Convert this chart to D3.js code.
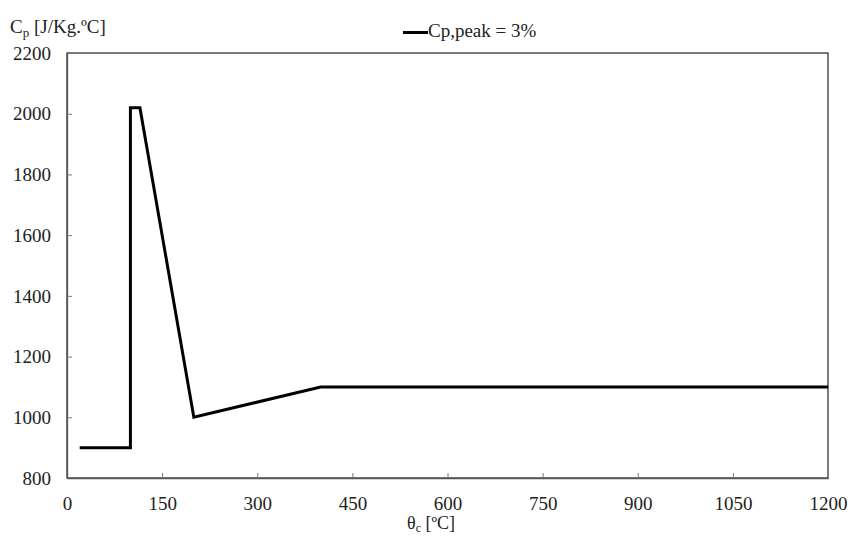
<!DOCTYPE html>
<html>
<head>
<meta charset="utf-8">
<script src="https://cdn.jsdelivr.net/npm/d3@7"></script>
<style>
  body { margin: 0; background: #fff; }
  svg text { font-family: "Liberation Serif", "Times New Roman", Times, serif; fill: #222; }
</style>
</head>
<body>
<div id="chart"></div>
<script>
// temperature [ºC] and specific heat [J/Kg.ºC]
var temps = [20, 100, 100, 115, 200, 400, 1200];
var cpValues = [900, 900, 2020, 2020, 1000, 1100, 1100];
var xTicks = [0, 150, 300, 450, 600, 750, 900, 1050, 1200];
var yTicks = [800, 1000, 1200, 1400, 1600, 1800, 2000, 2200];
var seriesName = "Cp,peak = 3%";

var width = 853,
    height = 536;
var margin = { top: 53, right: 25, bottom: 58, left: 67 };
var fs = 19;

var x = d3.scaleLinear().domain([0, 1200]).range([margin.left, width - margin.right]);
var y = d3.scaleLinear().domain([800, 2200]).range([height - margin.bottom, margin.top]);

var svg = d3.select("#chart").append("svg")
    .attr("width", width)
    .attr("height", height)

// frame
svg.append("rect")
    .attr("x", x(0))
    .attr("y", y(2200))
    .attr("width", x(1200) - x(0))
    .attr("height", y(800) - y(2200))
    .attr("fill", "none")
    .attr("stroke", "#333")
    .attr("stroke-width", 1.3)

var xAxis = svg.append("g")
    .attr("transform", "translate(0," + y(800) + ")")
    .call(d3.axisBottom(x).tickValues(xTicks).tickFormat(d3.format("d")).tickSizeInner(-5).tickSizeOuter(0))
var yAxis = svg.append("g")
    .attr("transform", "translate(" + x(0) + ",0)")
    .call(d3.axisLeft(y).tickValues(yTicks).tickFormat(d3.format("d")).tickSizeInner(-5).tickSizeOuter(0))

svg.selectAll(".domain").attr("stroke", "#555").attr("stroke-width", 1.3)
svg.selectAll(".tick line").attr("stroke", "#777")
svg.selectAll(".tick text")
    .attr("font-size", fs)
    .attr("fill", "#222")
xAxis.selectAll(".tick text").attr("y", 32).attr("dy", 0)
yAxis.selectAll(".tick text").attr("x", -16).attr("dy", "0.33em")

// no tick marks on the frame corners
xAxis.selectAll(".tick line").filter(function (d) { return d === 0 || d === 1200; }).remove()
yAxis.selectAll(".tick line").filter(function (d) { return d === 800 || d === 2200; }).remove()

var line = d3.line()
    .x(function (d, i) { return x(temps[i]); })
    .y(function (d) { return y(d); });

svg.append("path")
    .datum(cpValues)
    .attr("d", line)
    .attr("fill", "none")
    .attr("stroke", "#000")
    .attr("stroke-width", 3)
    .attr("stroke-linejoin", "miter")

// y title
var yt = svg.append("text")
    .attr("x", 10)
    .attr("y", 33)
    .attr("font-size", fs)
yt.append("tspan").text("C")
yt.append("tspan").attr("font-size", 13).attr("dy", 4).text("p")
yt.append("tspan").attr("dy", -4).text(" [J/Kg.ºC]")

// x title
var xt = svg.append("text")
    .attr("x", 407)
    .attr("y", 529)
    .attr("font-size", 18)
xt.append("tspan").text("θ")
xt.append("tspan").attr("font-size", 12).attr("dy", 3).text("c")
xt.append("tspan").attr("dy", -3).text(" [ºC]")

// legend
svg.append("line")
    .attr("x1", 403).attr("x2", 428)
    .attr("y1", 32.5).attr("y2", 32.5)
    .attr("stroke", "#000")
    .attr("stroke-width", 3)
svg.append("text")
    .attr("x", 428)
    .attr("y", 37)
    .attr("font-size", fs)
    .text(seriesName)
</script>
</body>
</html>
